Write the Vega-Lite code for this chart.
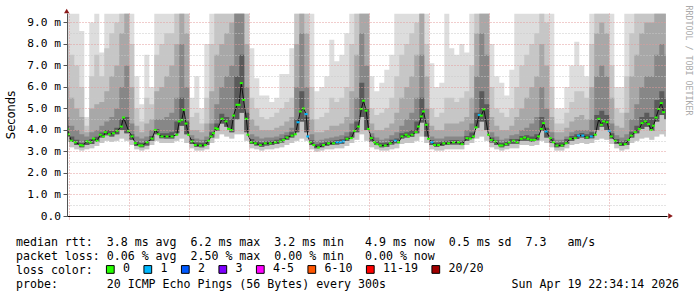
{
"$schema": "https://vega.github.io/schema/vega-lite/v6.json",
"width": 600,
"height": 203,
"autosize": "none",
"padding": {"left": 67, "top": 13, "right": 30, "bottom": 81},
"background": "white",
"config": {"view": {"stroke": null}},
"datasets": {
"smoke": [
{"t":-2,"lo":3.45,"lm":3.7,"a":9.4,"b":8.0,"c":6.0,"d":4.6,"e":4.2},
{"t":0,"lo":3.2,"lm":3.45,"a":9.4,"b":7.5,"c":5.5,"d":4.2,"e":3.7},
{"t":2,"lo":3.1,"lm":3.3,"a":9.4,"b":7.0,"c":5.0,"d":4.0,"e":3.55},
{"t":4,"lo":3.05,"lm":3.2,"a":8.6,"b":6.0,"c":4.6,"d":3.8,"e":3.4},
{"t":6,"lo":3.1,"lm":3.3,"a":4.6,"b":4.2,"c":3.9,"d":3.7,"e":3.52},
{"t":8,"lo":3.15,"lm":3.35,"a":9.0,"b":6.5,"c":5.0,"d":3.9,"e":3.58},
{"t":10,"lo":3.25,"lm":3.45,"a":9.4,"b":7.5,"c":5.2,"d":4.0,"e":3.68},
{"t":12,"lo":3.4,"lm":3.65,"a":7.6,"b":6.5,"c":5.3,"d":4.2,"e":3.88},
{"t":14,"lo":3.5,"lm":3.75,"a":9.4,"b":7.8,"c":5.8,"d":4.4,"e":4.0},
{"t":16,"lo":3.45,"lm":3.7,"a":9.4,"b":8.5,"c":6.5,"d":4.6,"e":3.95},
{"t":18,"lo":3.5,"lm":3.8,"a":9.4,"b":9.0,"c":7.0,"d":5.0,"e":4.1},
{"t":20,"lo":3.6,"lm":4.0,"a":9.4,"b":9.4,"c":8.5,"d":6.0,"e":4.5},
{"t":22,"lo":3.5,"lm":3.85,"a":9.4,"b":9.4,"c":9.4,"d":7.0,"e":4.6},
{"t":24,"lo":3.3,"lm":3.55,"a":9.4,"b":8.0,"c":6.0,"d":4.3,"e":3.8},
{"t":26,"lo":3.1,"lm":3.25,"a":6.5,"b":5.0,"c":4.2,"d":3.7,"e":3.47},
{"t":28,"lo":3.05,"lm":3.2,"a":5.2,"b":4.4,"c":3.9,"d":3.6,"e":3.4},
{"t":30,"lo":3.1,"lm":3.28,"a":7.5,"b":5.5,"c":4.3,"d":3.7,"e":3.5},
{"t":32,"lo":3.3,"lm":3.5,"a":6.0,"b":5.2,"c":4.5,"d":4.0,"e":3.72},
{"t":34,"lo":3.5,"lm":3.8,"a":9.4,"b":7.5,"c":5.8,"d":4.5,"e":4.05},
{"t":36,"lo":3.4,"lm":3.62,"a":9.4,"b":8.0,"c":6.0,"d":4.5,"e":3.85},
{"t":38,"lo":3.4,"lm":3.6,"a":9.4,"b":8.5,"c":6.5,"d":4.6,"e":3.85},
{"t":40,"lo":3.4,"lm":3.6,"a":9.4,"b":8.5,"c":7.0,"d":4.8,"e":3.9},
{"t":42,"lo":3.5,"lm":3.85,"a":9.4,"b":9.4,"c":8.0,"d":5.5,"e":4.4},
{"t":44,"lo":3.6,"lm":4.2,"a":9.4,"b":9.4,"c":9.4,"d":8.0,"e":5.5},
{"t":46,"lo":3.4,"lm":3.8,"a":9.4,"b":9.4,"c":8.5,"d":6.0,"e":4.4},
{"t":48,"lo":3.15,"lm":3.35,"a":5.5,"b":4.6,"c":4.0,"d":3.75,"e":3.58},
{"t":50,"lo":3.05,"lm":3.22,"a":6.5,"b":4.8,"c":4.0,"d":3.6,"e":3.42},
{"t":52,"lo":3.05,"lm":3.2,"a":5.0,"b":4.3,"c":3.9,"d":3.55,"e":3.4},
{"t":54,"lo":3.1,"lm":3.3,"a":8.0,"b":5.5,"c":4.3,"d":3.7,"e":3.52},
{"t":56,"lo":3.4,"lm":3.65,"a":9.4,"b":8.0,"c":5.8,"d":4.3,"e":3.9},
{"t":58,"lo":3.6,"lm":3.95,"a":9.4,"b":9.4,"c":7.5,"d":5.2,"e":4.3},
{"t":60,"lo":3.8,"lm":4.3,"a":9.4,"b":9.4,"c":8.0,"d":6.0,"e":4.75},
{"t":62,"lo":3.7,"lm":4.15,"a":9.4,"b":9.4,"c":8.5,"d":6.5,"e":4.6},
{"t":64,"lo":3.6,"lm":3.9,"a":9.4,"b":9.4,"c":9.0,"d":7.0,"e":4.5},
{"t":66,"lo":3.8,"lm":4.5,"a":9.4,"b":9.4,"c":9.4,"d":9.4,"e":6.5},
{"t":68,"lo":3.8,"lm":4.8,"a":9.4,"b":9.4,"c":9.4,"d":9.4,"e":7.5},
{"t":70,"lo":3.5,"lm":3.9,"a":9.4,"b":9.4,"c":8.0,"d":6.0,"e":4.8},
{"t":72,"lo":3.15,"lm":3.35,"a":7.8,"b":5.5,"c":4.5,"d":3.8,"e":3.58},
{"t":74,"lo":3.1,"lm":3.28,"a":6.4,"b":5.0,"c":4.2,"d":3.7,"e":3.48},
{"t":76,"lo":3.05,"lm":3.22,"a":5.6,"b":4.6,"c":4.0,"d":3.6,"e":3.42},
{"t":78,"lo":3.1,"lm":3.28,"a":5.6,"b":4.5,"c":4.0,"d":3.65,"e":3.48},
{"t":80,"lo":3.1,"lm":3.3,"a":5.3,"b":4.6,"c":4.0,"d":3.65,"e":3.5},
{"t":82,"lo":3.15,"lm":3.35,"a":5.5,"b":4.8,"c":4.1,"d":3.7,"e":3.55},
{"t":84,"lo":3.2,"lm":3.42,"a":6.6,"b":5.0,"c":4.2,"d":3.8,"e":3.62},
{"t":86,"lo":3.3,"lm":3.55,"a":6.6,"b":5.3,"c":4.4,"d":3.9,"e":3.75},
{"t":88,"lo":3.4,"lm":3.65,"a":7.8,"b":5.5,"c":4.6,"d":4.1,"e":3.9},
{"t":90,"lo":3.5,"lm":3.9,"a":9.4,"b":9.4,"c":8.0,"d":6.0,"e":4.5},
{"t":92,"lo":3.6,"lm":4.4,"a":9.4,"b":9.4,"c":9.4,"d":8.5,"e":5.8},
{"t":94,"lo":3.5,"lm":3.9,"a":9.4,"b":9.4,"c":8.5,"d":6.0,"e":4.6},
{"t":96,"lo":3.1,"lm":3.3,"a":9.4,"b":6.0,"c":4.5,"d":3.8,"e":3.52},
{"t":98,"lo":3.0,"lm":3.15,"a":5.8,"b":4.5,"c":3.9,"d":3.5,"e":3.34},
{"t":100,"lo":3.05,"lm":3.2,"a":6.0,"b":4.6,"c":3.9,"d":3.55,"e":3.4},
{"t":102,"lo":3.1,"lm":3.27,"a":6.5,"b":4.8,"c":4.0,"d":3.6,"e":3.47},
{"t":104,"lo":3.1,"lm":3.3,"a":8.2,"b":5.5,"c":4.2,"d":3.65,"e":3.5},
{"t":106,"lo":3.15,"lm":3.33,"a":7.2,"b":5.3,"c":4.2,"d":3.7,"e":3.54},
{"t":108,"lo":3.15,"lm":3.36,"a":7.5,"b":5.5,"c":4.3,"d":3.75,"e":3.57},
{"t":110,"lo":3.25,"lm":3.5,"a":8.5,"b":6.0,"c":4.6,"d":3.9,"e":3.7},
{"t":112,"lo":3.4,"lm":3.65,"a":9.4,"b":8.0,"c":5.8,"d":4.3,"e":3.9},
{"t":114,"lo":3.55,"lm":3.9,"a":9.4,"b":9.4,"c":7.5,"d":5.5,"e":4.4},
{"t":116,"lo":3.8,"lm":4.6,"a":9.4,"b":9.4,"c":9.4,"d":8.5,"e":6.2},
{"t":118,"lo":3.5,"lm":4.0,"a":9.4,"b":9.4,"c":9.4,"d":7.0,"e":5.0},
{"t":120,"lo":3.2,"lm":3.45,"a":6.5,"b":5.0,"c":4.3,"d":3.85,"e":3.68},
{"t":122,"lo":3.1,"lm":3.3,"a":5.8,"b":4.7,"c":4.0,"d":3.65,"e":3.5},
{"t":124,"lo":3.05,"lm":3.2,"a":6.2,"b":4.8,"c":4.0,"d":3.55,"e":3.4},
{"t":126,"lo":3.05,"lm":3.22,"a":6.8,"b":5.0,"c":4.1,"d":3.6,"e":3.42},
{"t":128,"lo":3.1,"lm":3.33,"a":7.5,"b":5.5,"c":4.3,"d":3.75,"e":3.55},
{"t":130,"lo":3.15,"lm":3.38,"a":9.4,"b":6.5,"c":4.8,"d":3.9,"e":3.6},
{"t":132,"lo":3.35,"lm":3.6,"a":9.4,"b":7.5,"c":5.5,"d":4.2,"e":3.85},
{"t":134,"lo":3.4,"lm":3.65,"a":9.4,"b":8.0,"c":6.0,"d":4.5,"e":3.9},
{"t":136,"lo":3.4,"lm":3.68,"a":9.4,"b":8.5,"c":6.5,"d":4.8,"e":4.0},
{"t":138,"lo":3.5,"lm":3.85,"a":9.4,"b":9.0,"c":7.5,"d":5.5,"e":4.4},
{"t":140,"lo":3.7,"lm":4.35,"a":9.4,"b":9.4,"c":9.4,"d":7.5,"e":5.5},
{"t":142,"lo":3.4,"lm":3.7,"a":9.4,"b":8.0,"c":6.5,"d":5.0,"e":4.3},
{"t":144,"lo":3.1,"lm":3.3,"a":7.1,"b":5.0,"c":4.2,"d":3.7,"e":3.52},
{"t":146,"lo":3.05,"lm":3.22,"a":6.0,"b":4.6,"c":4.0,"d":3.6,"e":3.42},
{"t":148,"lo":3.05,"lm":3.26,"a":6.2,"b":4.8,"c":4.0,"d":3.6,"e":3.46},
{"t":150,"lo":3.1,"lm":3.3,"a":9.4,"b":5.5,"c":4.3,"d":3.7,"e":3.5},
{"t":152,"lo":3.1,"lm":3.33,"a":7.8,"b":5.5,"c":4.3,"d":3.7,"e":3.54},
{"t":154,"lo":3.1,"lm":3.33,"a":7.5,"b":5.3,"c":4.3,"d":3.7,"e":3.54},
{"t":156,"lo":3.1,"lm":3.3,"a":8.0,"b":5.5,"c":4.4,"d":3.7,"e":3.5},
{"t":158,"lo":3.3,"lm":3.5,"a":7.6,"b":5.8,"c":4.6,"d":4.0,"e":3.72},
{"t":160,"lo":3.4,"lm":3.62,"a":9.4,"b":7.0,"c":5.5,"d":4.3,"e":3.88},
{"t":162,"lo":3.6,"lm":4.1,"a":9.4,"b":9.4,"c":8.5,"d":6.5,"e":4.8},
{"t":164,"lo":3.7,"lm":4.4,"a":9.4,"b":9.4,"c":9.4,"d":8.5,"e":5.8},
{"t":166,"lo":3.5,"lm":4.0,"a":9.4,"b":9.4,"c":9.4,"d":7.5,"e":5.2},
{"t":168,"lo":3.2,"lm":3.42,"a":8.0,"b":6.0,"c":4.6,"d":3.9,"e":3.65},
{"t":170,"lo":3.1,"lm":3.3,"a":6.5,"b":5.0,"c":4.2,"d":3.7,"e":3.52},
{"t":172,"lo":3.05,"lm":3.2,"a":6.2,"b":4.8,"c":4.0,"d":3.55,"e":3.4},
{"t":174,"lo":3.1,"lm":3.27,"a":5.6,"b":4.6,"c":4.0,"d":3.6,"e":3.47},
{"t":176,"lo":3.15,"lm":3.36,"a":6.8,"b":5.0,"c":4.2,"d":3.75,"e":3.58},
{"t":178,"lo":3.15,"lm":3.36,"a":9.4,"b":6.0,"c":4.6,"d":3.8,"e":3.58},
{"t":180,"lo":3.3,"lm":3.5,"a":9.4,"b":7.0,"c":5.0,"d":4.0,"e":3.72},
{"t":182,"lo":3.3,"lm":3.5,"a":9.4,"b":7.5,"c":5.5,"d":4.1,"e":3.75},
{"t":184,"lo":3.25,"lm":3.45,"a":9.4,"b":8.0,"c":6.0,"d":4.3,"e":3.7},
{"t":186,"lo":3.3,"lm":3.52,"a":9.4,"b":8.5,"c":6.5,"d":4.6,"e":3.8},
{"t":188,"lo":3.5,"lm":3.95,"a":9.4,"b":9.4,"c":8.0,"d":6.0,"e":4.6},
{"t":190,"lo":3.4,"lm":3.65,"a":9.4,"b":9.0,"c":7.0,"d":5.0,"e":4.1},
{"t":192,"lo":3.2,"lm":3.4,"a":9.4,"b":6.0,"c":4.6,"d":3.9,"e":3.62},
{"t":194,"lo":3.05,"lm":3.2,"a":5.0,"b":4.3,"c":3.9,"d":3.55,"e":3.4},
{"t":196,"lo":3.05,"lm":3.22,"a":5.0,"b":4.3,"c":3.9,"d":3.55,"e":3.42},
{"t":198,"lo":3.15,"lm":3.36,"a":6.0,"b":4.8,"c":4.1,"d":3.7,"e":3.58},
{"t":200,"lo":3.3,"lm":3.5,"a":7.0,"b":5.3,"c":4.4,"d":3.9,"e":3.72},
{"t":202,"lo":3.35,"lm":3.58,"a":8.1,"b":5.8,"c":4.6,"d":4.0,"e":3.8},
{"t":204,"lo":3.4,"lm":3.65,"a":7.0,"b":5.8,"c":4.7,"d":4.0,"e":3.86},
{"t":206,"lo":3.35,"lm":3.58,"a":6.5,"b":5.5,"c":4.5,"d":4.0,"e":3.8},
{"t":208,"lo":3.4,"lm":3.62,"a":9.4,"b":8.0,"c":6.0,"d":4.5,"e":3.9},
{"t":210,"lo":3.55,"lm":4.0,"a":9.4,"b":9.4,"c":8.5,"d":6.5,"e":4.7},
{"t":212,"lo":3.6,"lm":4.15,"a":9.4,"b":9.4,"c":9.0,"d":7.0,"e":4.9},
{"t":214,"lo":3.55,"lm":4.0,"a":9.4,"b":9.4,"c":8.5,"d":6.5,"e":4.7},
{"t":216,"lo":3.35,"lm":3.6,"a":9.4,"b":7.0,"c":5.5,"d":4.3,"e":3.85},
{"t":218,"lo":3.15,"lm":3.36,"a":6.0,"b":5.0,"c":4.2,"d":3.75,"e":3.58},
{"t":220,"lo":3.05,"lm":3.26,"a":6.0,"b":4.8,"c":4.1,"d":3.65,"e":3.46},
{"t":222,"lo":3.1,"lm":3.3,"a":9.4,"b":6.5,"c":4.8,"d":3.8,"e":3.52},
{"t":224,"lo":3.4,"lm":3.65,"a":9.4,"b":8.5,"c":6.5,"d":4.5,"e":3.92},
{"t":226,"lo":3.5,"lm":3.85,"a":9.4,"b":9.4,"c":7.5,"d":5.2,"e":4.2},
{"t":228,"lo":3.6,"lm":4.05,"a":9.4,"b":9.4,"c":8.5,"d":6.0,"e":4.6},
{"t":230,"lo":3.65,"lm":4.15,"a":9.4,"b":9.4,"c":9.0,"d":6.5,"e":4.8},
{"t":232,"lo":3.55,"lm":3.95,"a":9.4,"b":9.4,"c":9.0,"d":6.5,"e":4.6},
{"t":234,"lo":3.7,"lm":4.4,"a":9.4,"b":9.4,"c":9.4,"d":7.5,"e":5.4},
{"t":236,"lo":3.8,"lm":4.7,"a":9.4,"b":9.4,"c":9.4,"d":8.0,"e":5.8},
{"t":238,"lo":3.7,"lm":4.5,"a":9.4,"b":9.4,"c":9.4,"d":7.5,"e":5.5},
{"t":238.6,"lo":3.7,"lm":4.5,"a":9.4,"b":9.4,"c":9.4,"d":7.5,"e":5.5}
],
"median": [
{"t":-0.9,"m":4.05,"loss":"0"},{"t":-0.25,"m":3.8,"loss":"0"},{"t":0.8,"m":3.5,"loss":"0"},{"t":2.4,"m":3.43,"loss":"0"},
{"t":4.4,"m":3.3,"loss":"0"},{"t":5.3,"m":3.28,"loss":"0"},{"t":7.1,"m":3.47,"loss":"0"},{"t":8.4,"m":3.43,"loss":"0"},
{"t":9.7,"m":3.6,"loss":"0"},{"t":11.1,"m":3.5,"loss":"0"},{"t":12.4,"m":3.78,"loss":"0"},{"t":13.7,"m":3.7,"loss":"0"},
{"t":14.4,"m":3.9,"loss":"0"},{"t":16.0,"m":3.8,"loss":"0"},{"t":17.7,"m":3.85,"loss":"0"},{"t":19.1,"m":3.96,"loss":"0"},
{"t":20.8,"m":4.16,"loss":"0"},{"t":21.7,"m":4.58,"loss":"0"},{"t":23.7,"m":3.96,"loss":"0"},{"t":25.1,"m":3.7,"loss":"0"},
{"t":26.4,"m":3.39,"loss":"0"},{"t":28.0,"m":3.28,"loss":"0"},{"t":29.1,"m":3.28,"loss":"0"},{"t":31.1,"m":3.43,"loss":"0"},
{"t":33.1,"m":3.6,"loss":"0"},{"t":34.4,"m":4.0,"loss":"0"},{"t":35.7,"m":3.8,"loss":"0"},{"t":37.1,"m":3.7,"loss":"0"},
{"t":39.1,"m":3.7,"loss":"0"},{"t":41.1,"m":3.7,"loss":"0"},{"t":43.0,"m":3.78,"loss":"0"},{"t":44.0,"m":4.4,"loss":"0"},
{"t":45.0,"m":4.47,"loss":"0"},{"t":45.8,"m":4.94,"loss":"0"},{"t":46.7,"m":4.3,"loss":"0"},{"t":47.7,"m":3.78,"loss":"0"},
{"t":49.1,"m":3.47,"loss":"0"},{"t":50.4,"m":3.3,"loss":"0"},{"t":52.4,"m":3.28,"loss":"0"},{"t":54.4,"m":3.3,"loss":"0"},
{"t":55.7,"m":3.5,"loss":"0"},{"t":56.7,"m":3.7,"loss":"0"},{"t":57.7,"m":3.85,"loss":"0"},{"t":58.6,"m":4.08,"loss":"0"},
{"t":59.3,"m":4.05,"loss":"0"},{"t":61.1,"m":4.52,"loss":"0"},{"t":62.7,"m":4.4,"loss":"0"},{"t":63.7,"m":4.05,"loss":"0"},
{"t":64.8,"m":4.0,"loss":"0"},{"t":65.7,"m":4.67,"loss":"0"},{"t":67.1,"m":5.17,"loss":"0"},{"t":67.9,"m":5.17,"loss":"0"},
{"t":68.8,"m":6.18,"loss":"0"},{"t":69.7,"m":5.4,"loss":"0"},{"t":70.8,"m":4.52,"loss":"0"},{"t":71.5,"m":3.78,"loss":"0"},
{"t":72.8,"m":3.43,"loss":"0"},{"t":74.4,"m":3.38,"loss":"0"},{"t":76.4,"m":3.3,"loss":"0"},{"t":78.4,"m":3.38,"loss":"0"},
{"t":80.4,"m":3.38,"loss":"0"},{"t":82.4,"m":3.43,"loss":"0"},{"t":84.4,"m":3.47,"loss":"0"},{"t":85.7,"m":3.54,"loss":"0"},
{"t":87.1,"m":3.65,"loss":"0"},{"t":89.1,"m":3.74,"loss":"0"},{"t":90.4,"m":3.8,"loss":"0"},{"t":91.5,"m":4.36,"loss":"1"},
{"t":92.4,"m":4.86,"loss":"0"},{"t":93.7,"m":5.0,"loss":"0"},{"t":94.7,"m":4.74,"loss":"1"},{"t":95.4,"m":3.7,"loss":"1"},
{"t":96.4,"m":3.43,"loss":"0"},{"t":97.8,"m":3.3,"loss":"0"},{"t":99.7,"m":3.19,"loss":"0"},{"t":101.7,"m":3.3,"loss":"0"},
{"t":103.7,"m":3.38,"loss":"0"},{"t":105.7,"m":3.38,"loss":"0"},{"t":107.1,"m":3.43,"loss":"1"},{"t":108.4,"m":3.43,"loss":"1"},
{"t":109.7,"m":3.47,"loss":"1"},{"t":111.1,"m":3.59,"loss":"0"},{"t":112.8,"m":3.62,"loss":"0"},{"t":114.1,"m":3.96,"loss":"0"},
{"t":115.7,"m":4.16,"loss":"0"},{"t":116.8,"m":4.98,"loss":"0"},{"t":117.7,"m":5.36,"loss":"0"},{"t":118.7,"m":4.9,"loss":"0"},
{"t":119.7,"m":4.05,"loss":"0"},{"t":120.8,"m":3.62,"loss":"0"},{"t":122.1,"m":3.43,"loss":"0"},{"t":123.1,"m":3.34,"loss":"0"},
{"t":124.4,"m":3.28,"loss":"0"},{"t":126.4,"m":3.28,"loss":"0"},{"t":128.4,"m":3.38,"loss":"0"},{"t":130.4,"m":3.5,"loss":"1"},
{"t":131.7,"m":3.43,"loss":"0"},{"t":133.1,"m":3.7,"loss":"0"},{"t":134.7,"m":3.78,"loss":"0"},{"t":135.7,"m":3.7,"loss":"0"},
{"t":137.1,"m":3.78,"loss":"0"},{"t":138.7,"m":3.9,"loss":"0"},{"t":139.7,"m":4.16,"loss":"0"},{"t":140.8,"m":4.63,"loss":"0"},
{"t":141.7,"m":4.86,"loss":"0"},{"t":142.8,"m":4.24,"loss":"0"},{"t":143.7,"m":3.59,"loss":"0"},{"t":145.1,"m":3.43,"loss":"1"},
{"t":146.1,"m":3.3,"loss":"0"},{"t":147.7,"m":3.3,"loss":"0"},{"t":149.8,"m":3.38,"loss":"0"},{"t":151.7,"m":3.38,"loss":"0"},
{"t":153.7,"m":3.43,"loss":"0"},{"t":155.7,"m":3.43,"loss":"0"},{"t":157.1,"m":3.34,"loss":"0"},{"t":159.1,"m":3.62,"loss":"0"},
{"t":160.4,"m":3.6,"loss":"0"},{"t":161.7,"m":3.7,"loss":"0"},{"t":162.7,"m":4.12,"loss":"0"},{"t":164.0,"m":4.7,"loss":"1"},
{"t":164.8,"m":4.67,"loss":"0"},{"t":165.8,"m":4.96,"loss":"0"},{"t":167.7,"m":3.78,"loss":"0"},{"t":168.8,"m":3.54,"loss":"0"},
{"t":170.4,"m":3.47,"loss":"0"},{"t":172.1,"m":3.28,"loss":"0"},{"t":173.1,"m":3.28,"loss":"0"},{"t":174.7,"m":3.34,"loss":"0"},
{"t":176.0,"m":3.43,"loss":"0"},{"t":177.7,"m":3.5,"loss":"0"},{"t":179.1,"m":3.43,"loss":"0"},{"t":180.8,"m":3.59,"loss":"0"},
{"t":182.1,"m":3.65,"loss":"0"},{"t":183.5,"m":3.59,"loss":"0"},{"t":184.8,"m":3.54,"loss":"0"},{"t":186.1,"m":3.54,"loss":"0"},
{"t":187.7,"m":3.7,"loss":"0"},{"t":188.8,"m":4.05,"loss":"0"},{"t":189.7,"m":4.32,"loss":"0"},{"t":190.7,"m":3.93,"loss":"1"},
{"t":192.4,"m":3.62,"loss":"0"},{"t":193.7,"m":3.43,"loss":"0"},{"t":195.1,"m":3.28,"loss":"0"},{"t":197.1,"m":3.28,"loss":"0"},
{"t":198.7,"m":3.38,"loss":"0"},{"t":200.4,"m":3.59,"loss":"0"},{"t":202.4,"m":3.62,"loss":"0"},{"t":203.7,"m":3.74,"loss":"1"},
{"t":205.4,"m":3.74,"loss":"1"},{"t":207.1,"m":3.65,"loss":"0"},{"t":208.8,"m":3.7,"loss":"1"},{"t":210.4,"m":3.78,"loss":"0"},
{"t":211.8,"m":4.52,"loss":"0"},{"t":212.8,"m":4.24,"loss":"0"},{"t":213.7,"m":4.4,"loss":"0"},{"t":215.1,"m":4.36,"loss":"0"},
{"t":216.0,"m":3.96,"loss":"1"},{"t":216.8,"m":3.7,"loss":"0"},{"t":218.4,"m":3.5,"loss":"0"},{"t":220.4,"m":3.34,"loss":"0"},
{"t":222.4,"m":3.34,"loss":"0"},{"t":223.7,"m":3.54,"loss":"0"},{"t":224.8,"m":3.74,"loss":"0"},{"t":226.4,"m":3.9,"loss":"0"},
{"t":228.0,"m":4.05,"loss":"0"},{"t":229.1,"m":4.32,"loss":"0"},{"t":230.4,"m":4.4,"loss":"0"},{"t":231.7,"m":4.27,"loss":"0"},
{"t":232.8,"m":4.0,"loss":"0"},{"t":233.7,"m":4.2,"loss":"0"},{"t":234.7,"m":4.58,"loss":"0"},{"t":235.8,"m":4.98,"loss":"0"},
{"t":236.8,"m":5.25,"loss":"0"},{"t":237.7,"m":4.83,"loss":"0"}
]
},
"layer": [
{
"data": {"name": "smoke"},
"mark": {"type": "area", "interpolate": "step-after", "color": "#dddddd", "clip": true, "opacity": 1},
"encoding": {
"x": {"field": "t", "type": "quantitative", "scale": {"domain": [-0.92, 239.08], "nice": false, "zero": false},
"axis": {
"values": [0,6,12,18,24,30,36,42,48,54,60,66,72,78,84,90,96,102,108,114,120,126,132,138,144,150,156,162,168,174,180,186,192,198,204,210,216,222,228,234],
"labelExpr": "datum.value % 24 == 12 ? (10 + floor(datum.value / 24)) + ' Apr' : ''",
"labelFont": "DejaVu Sans Mono", "labelFontSize": 10.4, "labelColor": "#000000",
"labelBaseline": "alphabetic", "labelPadding": 9.3, "labelAngle": 0, "labelAlign": "center",
"labelOverlap": false, "labelFlush": false, "labelBound": false,
"ticks": true, "tickSize": 3, "tickDash": [1,1],
"tickColor": {"condition": {"test": "datum.value % 24 == 0", "value": "#e39a9a"}, "value": "#c8c8c8"},
"grid": true, "gridDash": [1,2], "gridWidth": 1, "gridOpacity": 1,
"gridColor": {"condition": {"test": "datum.value % 24 == 0", "value": "#e39a9a"}, "value": "#c8c8c8"},
"domain": true, "domainColor": "#000000", "domainWidth": 1,
"zindex": 1,
"title": [
"median\u00a0rtt:\u00a0\u00a03.8\u00a0ms\u00a0avg\u00a0\u00a06.2\u00a0ms\u00a0max\u00a0\u00a03.2\u00a0ms\u00a0min\u00a0\u00a0\u00a04.9\u00a0ms\u00a0now\u00a0\u00a00.5\u00a0ms\u00a0sd\u00a0\u00a07.3\u00a0\u00a0\u00a0am/s",
"packet\u00a0loss:\u00a00.06\u00a0%\u00a0avg\u00a0\u00a02.50\u00a0%\u00a0max\u00a0\u00a00.00\u00a0%\u00a0min\u00a0\u00a0\u00a00.00\u00a0%\u00a0now",
"loss\u00a0color:",
"probe:\u00a0\u00a0\u00a0\u00a0\u00a0\u00a0\u00a020\u00a0ICMP\u00a0Echo\u00a0Pings\u00a0(56\u00a0Bytes)\u00a0every\u00a0300s\u00a0\u00a0\u00a0\u00a0\u00a0\u00a0\u00a0\u00a0\u00a0\u00a0\u00a0\u00a0\u00a0\u00a0\u00a0\u00a0\u00a0\u00a0Sun\u00a0Apr\u00a019\u00a022:34:14\u00a02026"
],
"titleFont": "DejaVu Sans Mono", "titleFontSize": 11.6, "titleFontWeight": "normal", "titleColor": "#000000",
"titleAnchor": "start", "titleAlign": "left", "titleBaseline": "alphabetic",
"titleX": -51.5, "titleY": 29.7, "titleLineHeight": 13.9, "titlePadding": 0
}},
"y": {"field": "lo", "type": "quantitative", "scale": {"domain": [0, 9.44], "nice": false, "zero": false},
"axis": {
"values": [0,0.5,1,1.5,2,2.5,3,3.5,4,4.5,5,5.5,6,6.5,7,7.5,8,8.5,9],
"labelExpr": "datum.value % 1 != 0 ? '' : (datum.value == 0 ? '0.0\u00a0\u00a0' : format(datum.value, '.1f') + '\u00a0m')",
"labelFont": "DejaVu Sans Mono", "labelFontSize": 11.2, "labelColor": "#000000",
"labelPadding": 2.5, "labelOverlap": false, "labelFlush": false, "labelBound": false,
"ticks": true, "tickSize": 4, "tickColor": "#555555",
"tickOpacity": {"condition": {"test": "datum.value % 1 != 0", "value": 0}, "value": 1},
"grid": true, "gridDash": [1,2], "gridWidth": 1, "gridOpacity": 1,
"gridColor": {"condition": {"test": "datum.value % 1 == 0", "value": "#e39a9a"}, "value": "#c8c8c8"},
"domain": true, "domainColor": "#555555", "domainWidth": 1,
"zindex": 1,
"title": "Seconds", "titleFont": "DejaVu Sans", "titleFontSize": 11.5, "titleFontWeight": "normal", "titleColor": "#000000",
"titleAngle": 270, "titleAlign": "center", "titleBaseline": "middle", "titleX": -56, "titleY": 101.5
}},
"y2": {"field": "a"}
}
},
{
"data": {"name": "smoke"},
"mark": {"type": "area", "interpolate": "step-after", "color": "#c6c6c6", "clip": true, "opacity": 1},
"encoding": {
"x": {"field": "t", "type": "quantitative", "scale": {"domain": [-0.92, 239.08], "nice": false, "zero": false}},
"y": {"field": "lo", "type": "quantitative", "scale": {"domain": [0, 9.44], "nice": false, "zero": false}, "axis": null},
"y2": {"field": "b"}
}
},
{
"data": {"name": "smoke"},
"mark": {"type": "area", "interpolate": "step-after", "color": "#a8a8a8", "clip": true, "opacity": 1},
"encoding": {
"x": {"field": "t", "type": "quantitative", "scale": {"domain": [-0.92, 239.08], "nice": false, "zero": false}},
"y": {"field": "lm", "type": "quantitative", "scale": {"domain": [0, 9.44], "nice": false, "zero": false}, "axis": null},
"y2": {"field": "c"}
}
},
{
"data": {"name": "smoke"},
"mark": {"type": "area", "interpolate": "step-after", "color": "#878787", "clip": true, "opacity": 1},
"encoding": {
"x": {"field": "t", "type": "quantitative", "scale": {"domain": [-0.92, 239.08], "nice": false, "zero": false}},
"y": {"field": "lm", "type": "quantitative", "scale": {"domain": [0, 9.44], "nice": false, "zero": false}, "axis": null},
"y2": {"field": "d"}
}
},
{
"data": {"name": "smoke"},
"mark": {"type": "area", "interpolate": "step-after", "color": "#5a5a5a", "clip": true, "opacity": 1},
"encoding": {
"x": {"field": "t", "type": "quantitative", "scale": {"domain": [-0.92, 239.08], "nice": false, "zero": false}},
"y": {"field": "lm", "type": "quantitative", "scale": {"domain": [0, 9.44], "nice": false, "zero": false}, "axis": null},
"y2": {"field": "e"}
}
},
{
"data": {"name": "median"},
"mark": {"type": "line", "color": "#111111", "strokeWidth": 1, "clip": true},
"encoding": {
"x": {"field": "t", "type": "quantitative", "scale": {"domain": [-0.92, 239.08], "nice": false, "zero": false}},
"y": {"field": "m", "type": "quantitative", "scale": {"domain": [0, 9.44], "nice": false, "zero": false},
"axis": {"orient": "right", "labels": false, "ticks": false, "domain": false, "grid": false,
"title": "RRDTOOL / TOBI OETIKER", "titleFont": "DejaVu Sans Mono", "titleFontSize": 8.3, "titleFontWeight": "normal",
"titleColor": "#aaaaaa", "titleAngle": 90, "titleAlign": "left", "titleBaseline": "middle", "titleX": 20.3, "titleY": -8}}
}
},
{
"data": {"name": "median"},
"mark": {"type": "tick", "orient": "horizontal", "size": 3, "thickness": 2, "clip": true, "opacity": 1},
"encoding": {
"x": {"field": "t", "type": "quantitative", "scale": {"domain": [-0.92, 239.08], "nice": false, "zero": false}},
"y": {"field": "m", "type": "quantitative", "scale": {"domain": [0, 9.44], "nice": false, "zero": false}, "axis": null},
"color": {"field": "loss", "type": "nominal",
"scale": {"domain": ["0","1","2","3","4-5","6-10","11-19","20/20"], "range": ["#26ff00","#00b8ff","#0059ff","#7e00ff","#ff00ff","#ff5500","#ff0000","#a10000"]},
"legend": {"orient": "none", "legendX": 37.5, "legendY": 250.5, "direction": "horizontal", "title": null,
"symbolType": "square", "symbolSize": 60, "symbolStrokeColor": "#000000", "symbolStrokeWidth": 1, "symbolOpacity": 1,
"labelFont": "DejaVu Sans Mono", "labelFontSize": 11.6, "labelColor": "#000000", "labelOffset": 7, "columnPadding": 10.5, "padding": 0}}
}
},
{
"data": {"values": [{}]},
"mark": {"type": "point", "shape": "triangle-up", "filled": true, "color": "#8b1a1a", "size": 28, "opacity": 1, "clip": false},
"encoding": {
"x": {"datum": -1.04, "type": "quantitative", "scale": {"domain": [-0.92, 239.08], "nice": false, "zero": false}},
"y": {"datum": 9.53, "type": "quantitative", "scale": {"domain": [0, 9.44], "nice": false, "zero": false}, "axis": null}
}
},
{
"data": {"values": [{}]},
"mark": {"type": "point", "shape": "triangle-right", "filled": true, "color": "#8b1a1a", "size": 28, "opacity": 1, "clip": false},
"encoding": {
"x": {"datum": 240.5, "type": "quantitative", "scale": {"domain": [-0.92, 239.08], "nice": false, "zero": false}},
"y": {"datum": 0.0, "type": "quantitative", "scale": {"domain": [0, 9.44], "nice": false, "zero": false}, "axis": null}
}
}
],
"resolve": {"axis": {"y": "independent"}}
}
